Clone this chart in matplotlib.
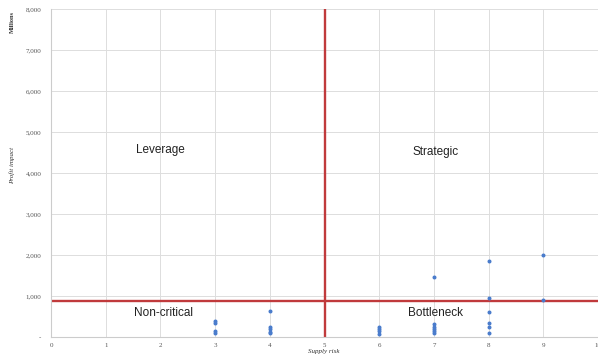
import matplotlib.pyplot as plt
from matplotlib.ticker import FuncFormatter

# supply risk (x) and profit impact in millions (y)
risk = [3, 3, 3, 3, 4, 4, 4, 4, 4,
        6, 6, 6, 6, 7, 7, 7, 7, 7, 7,
        8, 8, 8, 8, 8, 8, 9, 9]
impact = [400, 350, 150, 100, 634, 250, 200, 120, 90,
          250, 200, 150, 75, 1456, 310, 250, 200, 150, 105,
          1846, 943, 610, 350, 236, 105, 2000, 910]

risk_split = 5
impact_split = 880

quadrants = ["Leverage", "Strategic", "Non-critical", "Bottleneck"]
quad_x = [2.0, 7.03, 2.05, 7.03]
quad_y = [4560, 4510, 585, 585]

fig = plt.figure(figsize=(5.98, 3.56), dpi=100)
ax = fig.add_axes([51 / 598, 1 - 337 / 356, 1 - 51 / 598, 328 / 356])

ax.scatter(risk, impact, s=3.5, color="#4a7ccc", zorder=3)
ax.axvline(risk_split, color="#c03a3c", lw=1.7, zorder=2)
ax.axhline(impact_split, color="#c03a3c", lw=1.7, zorder=2)

for name, x, y in zip(quadrants, quad_x, quad_y):
    ax.text(x, y, name, ha="center", va="center", fontsize=8.5,
            family="Liberation Sans", color="#222222")

ax.set_xlim(0, 10)
ax.set_ylim(0, 8000)
ax.set_xticks(range(0, 11))
ax.set_yticks(range(0, 8001, 1000))
ax.yaxis.set_major_formatter(FuncFormatter(lambda v, p: "-" if v == 0 else f"{int(v):,}"))
ax.tick_params(axis="y", length=0, labelsize=5, colors="#555555", pad=7)
ax.tick_params(axis="x", length=0, labelsize=5, colors="#555555", pad=4)
for lab in ax.get_xticklabels() + ax.get_yticklabels():
    lab.set_family("Liberation Serif")

ax.grid(True, color="#dddddd", lw=0.7, zorder=0)
for s in ["top", "right"]:
    ax.spines[s].set_visible(False)
for s in ["left", "bottom"]:
    ax.spines[s].set_color("#cccccc")
    ax.spines[s].set_linewidth(0.8)

fig.text(324 / 598, 1 - 351 / 356, "Supply risk", fontsize=5, style="italic",
         family="Liberation Serif", color="#333333", ha="center", va="center")
fig.text(12 / 598, 1 - 165 / 356, "Profit impact", rotation=90, fontsize=5, style="italic",
         family="Liberation Serif", color="#333333", ha="center", va="center")
fig.text(12 / 598, 1 - 22 / 356, "Millions", rotation=90, fontsize=4.5, weight="bold",
         family="Liberation Serif", color="#333333", ha="center", va="center")

fig.savefig("out.png", dpi=100)
